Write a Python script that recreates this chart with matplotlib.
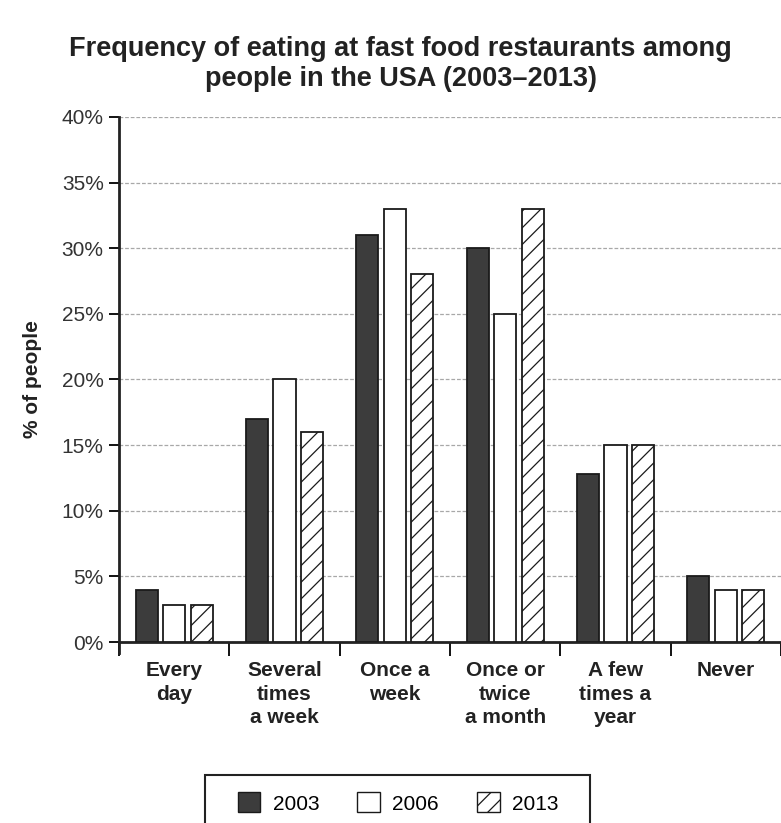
import matplotlib
matplotlib.use("Agg")
import matplotlib.pyplot as plt
import numpy as np
from matplotlib.patches import Patch, Rectangle

plt.rcParams['font.family'] = ['Liberation Sans', 'DejaVu Sans']
plt.rcParams['hatch.linewidth'] = 0.9
plt.rcParams['hatch.color'] = '#444444'

categories = ["Every\nday", "Several\ntimes\na week", "Once a\nweek",
              "Once or\ntwice\na month", "A few\ntimes a\nyear", "Never"]
years = ["2003", "2006", "2013"]
values_2003 = [4, 17, 31, 30, 12.8, 5]
values_2006 = [2.8, 20, 33, 25, 15, 4]
values_2013 = [2.8, 16, 28, 33, 15, 4]
y_ticks = [0, 5, 10, 15, 20, 25, 30, 35, 40]

W, H = 781, 823
fig = plt.figure(figsize=(W / 100, H / 100), dpi=100)
ax = fig.add_axes([119 / W, 1 - 642 / H, (781 - 119) / W, (642 - 117) / H])

x = np.arange(len(categories))
width = 0.2
step = 0.25
styles = [
    dict(facecolor='#3c3c3c', hatch=None),
    dict(facecolor='white', hatch=None),
    dict(facecolor='white', hatch='//'),
]
for k, (vals, st) in enumerate(zip([values_2003, values_2006, values_2013], styles)):
    ax.bar(x + (k - 1) * step, vals, width, facecolor=st['facecolor'],
           hatch=st['hatch'], edgecolor='#1a1a1a', linewidth=1.3, zorder=3)

ax.set_xlim(-0.5, -0.5 + (781 - 119) / 111)
ax.set_ylim(0, 40)
ax.set_yticks(y_ticks)
ax.set_yticklabels([f"{t}%" for t in y_ticks], fontsize=15, color='#333333')
ax.yaxis.grid(True, color='#a8a8a8', linewidth=0.9, linestyle=(0, (3, 1.5)), zorder=0)

# group boundary ticks on the x axis, labels centred under each group
ax.set_xticks(np.arange(-0.5, len(categories), 1.0))
ax.set_xticklabels([])
ax.set_xticks(x, minor=True)
ax.set_xticklabels(categories, minor=True, fontsize=15, fontweight='bold',
                   color='#222222', linespacing=1.3)
ax.tick_params(axis='x', which='major', length=10, width=1.3, direction='out')
ax.tick_params(axis='x', which='minor', length=0, pad=14)
ax.tick_params(axis='y', length=7, width=1.3, direction='out', pad=4)

for side in ['top', 'right']:
    ax.spines[side].set_visible(False)
for side in ['left', 'bottom']:
    ax.spines[side].set_linewidth(2)
    ax.spines[side].set_color('#222222')
ax.spines['left'].set_bounds(-0.8, 40)

ax.set_ylabel("% of people", fontsize=15, fontweight='bold', color='#222222', labelpad=14)

fig.text(0.513, 1 - 49 / H, "Frequency of eating at fast food restaurants among",
         ha='center', va='center', fontsize=19.5, fontweight='bold', color='#222222')
fig.text(0.513, 1 - 79 / H, "people in the USA (2003\u20132013)",
         ha='center', va='center', fontsize=19.5, fontweight='bold', color='#222222')

# legend entries without their own frame; a wider box is drawn around them
handles = [Patch(facecolor=st['facecolor'], hatch=st['hatch'], edgecolor='#1a1a1a',
                 linewidth=1.0, label=y) for st, y in zip(styles, years)]
fig.legend(handles=handles, loc='center', bbox_to_anchor=(398 / W, 1 - 803 / H),
           ncol=3, frameon=False, fontsize=15, handlelength=1.1, handleheight=1.1,
           columnspacing=1.8, handletextpad=0.6, borderpad=0, borderaxespad=0)
fig.patches.append(Rectangle((205 / W, -0.01), (590 - 205) / W, (1 - 775 / H) + 0.01,
                             transform=fig.transFigure, facecolor='none',
                             edgecolor='#222222', linewidth=1.5))

fig.savefig("out.png", dpi=100)
